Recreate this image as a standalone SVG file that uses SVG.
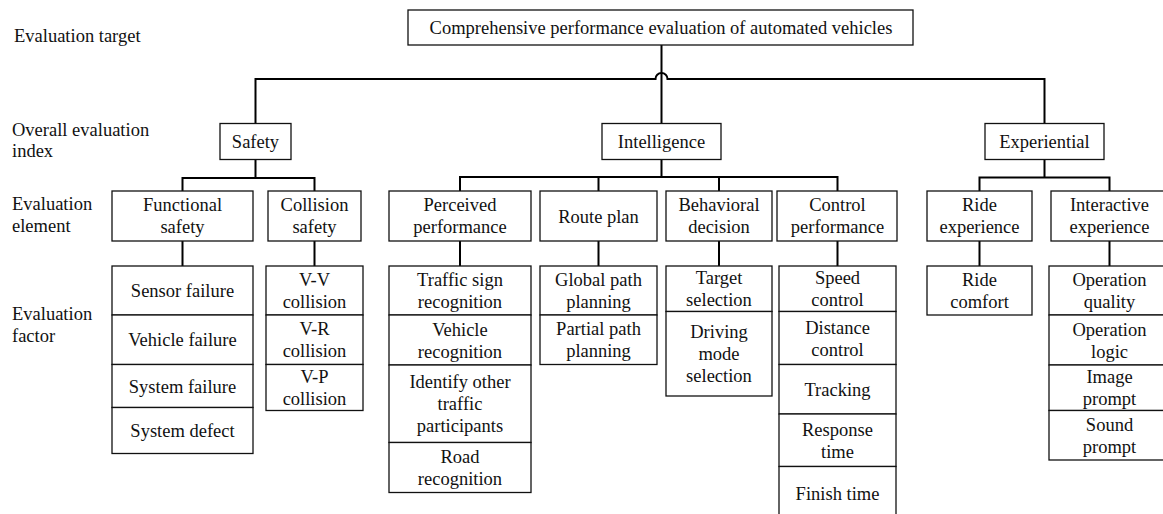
<svg xmlns="http://www.w3.org/2000/svg" width="1163" height="514" viewBox="0 0 1163 514">
<style>
.box{fill:#fff;stroke:#111;stroke-width:1.3}
.conn{fill:none;stroke:#000;stroke-width:2}
text{font-family:"Liberation Serif","Times New Roman",serif;font-size:18.5px;fill:#111}
.t{text-anchor:middle}
.lbl{text-anchor:start}
</style>
<rect width="1163" height="514" fill="#fff"/>
<g id="connectors">
<line class="conn" x1="661.5" y1="45" x2="661.5" y2="123.5"/>
<path class="conn" d="M255.5 123.5 V79 H655.5 A6 6 0 0 1 667.5 79 H1044.5 V123.5"/>
<path class="conn" d="M255.5 159.5 V178 M182.5 191 V178 H314.5 V191"/>
<path class="conn" d="M661.5 159.5 V177 M460 191 V177 H837.5 V191 M598.5 177 V191 M719 177 V191"/>
<path class="conn" d="M1044.5 159.5 V177.5 M979.5 191 V177.5 H1109.5 V191"/>
<path class="conn" d="M182.5 241 V266 M314.5 241 V266 M460 241 V266 M598.5 241 V266 M719 241 V266 M837.5 241 V266 M979.5 241 V266 M1109.5 241 V266"/>
</g>
<g id="levels">
<text class="lbl" x="14" y="42">Evaluation target</text>
<text class="lbl" x="12" y="136">Overall evaluation</text>
<text class="lbl" x="12" y="157">index</text>
<text class="lbl" x="12" y="210">Evaluation</text>
<text class="lbl" x="12" y="232">element</text>
<text class="lbl" x="12" y="320">Evaluation</text>
<text class="lbl" x="12" y="342">factor</text>
</g>
<g id="target"><rect class="box" x="408" y="10" width="505" height="35"/><text class="t" x="661" y="34">Comprehensive performance evaluation of automated vehicles</text></g>
<g id="safety"><rect class="box" x="220" y="123.5" width="71" height="36"/><text class="t" x="255.5" y="148">Safety</text></g>
<g id="intelligence"><rect class="box" x="602" y="123.5" width="119" height="36"/><text class="t" x="661.5" y="148">Intelligence</text></g>
<g id="experiential"><rect class="box" x="985" y="123.5" width="119" height="36"/><text class="t" x="1044.5" y="148">Experiential</text></g>

<g id="functional-safety"><rect class="box" x="112" y="191" width="141" height="50"/><text class="t" x="182.5" y="211">Functional</text><text class="t" x="182.5" y="233">safety</text></g>
<g id="collision-safety"><rect class="box" x="268" y="191" width="93" height="50"/><text class="t" x="314.5" y="211">Collision</text><text class="t" x="314.5" y="233">safety</text></g>
<g id="perceived-performance"><rect class="box" x="389" y="191" width="142" height="50"/><text class="t" x="460" y="211">Perceived</text><text class="t" x="460" y="233">performance</text></g>
<g id="route-plan"><rect class="box" x="540" y="191" width="117" height="50"/><text class="t" x="598.5" y="222.5">Route plan</text></g>
<g id="behavioral-decision"><rect class="box" x="666" y="191" width="106" height="50"/><text class="t" x="719" y="211">Behavioral</text><text class="t" x="719" y="233">decision</text></g>
<g id="control-performance"><rect class="box" x="777" y="191" width="120" height="50"/><text class="t" x="837.5" y="211">Control</text><text class="t" x="837.5" y="233">performance</text></g>
<g id="ride-experience"><rect class="box" x="927" y="191" width="105" height="50"/><text class="t" x="979.5" y="211">Ride</text><text class="t" x="979.5" y="233">experience</text></g>
<g id="interactive-experience"><rect class="box" x="1051" y="191" width="118" height="50"/><text class="t" x="1109.5" y="211">Interactive</text><text class="t" x="1109.5" y="233">experience</text></g>

<g id="sensor-failure"><rect class="box" x="112" y="266" width="141" height="49"/><text class="t" x="182.5" y="297">Sensor failure</text></g>
<g id="vehicle-failure"><rect class="box" x="112" y="315" width="141" height="49.5"/><text class="t" x="182.5" y="346.3">Vehicle failure</text></g>
<g id="system-failure"><rect class="box" x="112" y="364.5" width="141" height="43"/><text class="t" x="182.5" y="392.5">System failure</text></g>
<g id="system-defect"><rect class="box" x="112" y="407.5" width="141" height="46"/><text class="t" x="182.5" y="437">System defect</text></g>

<g id="vv-collision"><rect class="box" x="266" y="266" width="97" height="49"/><text class="t" x="314.5" y="286">V-V</text><text class="t" x="314.5" y="308">collision</text></g>
<g id="vr-collision"><rect class="box" x="266" y="315" width="97" height="49.5"/><text class="t" x="314.5" y="335.3">V-R</text><text class="t" x="314.5" y="357.3">collision</text></g>
<g id="vp-collision"><rect class="box" x="266" y="364.5" width="97" height="46"/><text class="t" x="314.5" y="383">V-P</text><text class="t" x="314.5" y="405">collision</text></g>

<g id="traffic-sign-recognition"><rect class="box" x="389" y="266" width="142" height="49"/><text class="t" x="460" y="286">Traffic sign</text><text class="t" x="460" y="308">recognition</text></g>
<g id="vehicle-recognition"><rect class="box" x="389" y="315" width="142" height="50"/><text class="t" x="460" y="335.5">Vehicle</text><text class="t" x="460" y="357.5">recognition</text></g>
<g id="identify-participants"><rect class="box" x="389" y="365" width="142" height="77.5"/><text class="t" x="460" y="388.3">Identify other</text><text class="t" x="460" y="410.3">traffic</text><text class="t" x="460" y="432.3">participants</text></g>
<g id="road-recognition"><rect class="box" x="389" y="442.5" width="142" height="50"/><text class="t" x="460" y="463">Road</text><text class="t" x="460" y="485">recognition</text></g>

<g id="global-path-planning"><rect class="box" x="540" y="266" width="117" height="49"/><text class="t" x="598.5" y="286">Global path</text><text class="t" x="598.5" y="308">planning</text></g>
<g id="partial-path-planning"><rect class="box" x="540" y="315" width="117" height="49.5"/><text class="t" x="598.5" y="335.3">Partial path</text><text class="t" x="598.5" y="357.3">planning</text></g>

<g id="target-selection"><rect class="box" x="666" y="266" width="106" height="45.5"/><text class="t" x="719" y="284.3">Target</text><text class="t" x="719" y="306.3">selection</text></g>
<g id="driving-mode-selection"><rect class="box" x="666" y="311.5" width="106" height="84.5"/><text class="t" x="719" y="338.3">Driving</text><text class="t" x="719" y="360.3">mode</text><text class="t" x="719" y="382.3">selection</text></g>

<g id="speed-control"><rect class="box" x="779" y="266" width="117" height="45.5"/><text class="t" x="837.5" y="284.3">Speed</text><text class="t" x="837.5" y="306.3">control</text></g>
<g id="distance-control"><rect class="box" x="779" y="311.5" width="117" height="53"/><text class="t" x="837.5" y="333.5">Distance</text><text class="t" x="837.5" y="355.5">control</text></g>
<g id="tracking"><rect class="box" x="779" y="364.5" width="117" height="49.5"/><text class="t" x="837.5" y="395.8">Tracking</text></g>
<g id="response-time"><rect class="box" x="779" y="414" width="117" height="52.5"/><text class="t" x="837.5" y="435.8">Response</text><text class="t" x="837.5" y="457.8">time</text></g>
<g id="finish-time"><rect class="box" x="779" y="466.5" width="117" height="55"/><text class="t" x="837.5" y="500">Finish time</text></g>

<g id="ride-comfort"><rect class="box" x="927" y="266" width="105" height="49"/><text class="t" x="979.5" y="286">Ride</text><text class="t" x="979.5" y="308">comfort</text></g>

<g id="operation-quality"><rect class="box" x="1049" y="266" width="121" height="49"/><text class="t" x="1109.5" y="286">Operation</text><text class="t" x="1109.5" y="308">quality</text></g>
<g id="operation-logic"><rect class="box" x="1049" y="315" width="121" height="50"/><text class="t" x="1109.5" y="335.5">Operation</text><text class="t" x="1109.5" y="357.5">logic</text></g>
<g id="image-prompt"><rect class="box" x="1049" y="365" width="121" height="45.5"/><text class="t" x="1109.5" y="383.3">Image</text><text class="t" x="1109.5" y="405.3">prompt</text></g>
<g id="sound-prompt"><rect class="box" x="1049" y="410.5" width="121" height="49.5"/><text class="t" x="1109.5" y="430.8">Sound</text><text class="t" x="1109.5" y="452.8">prompt</text></g>
</svg>
